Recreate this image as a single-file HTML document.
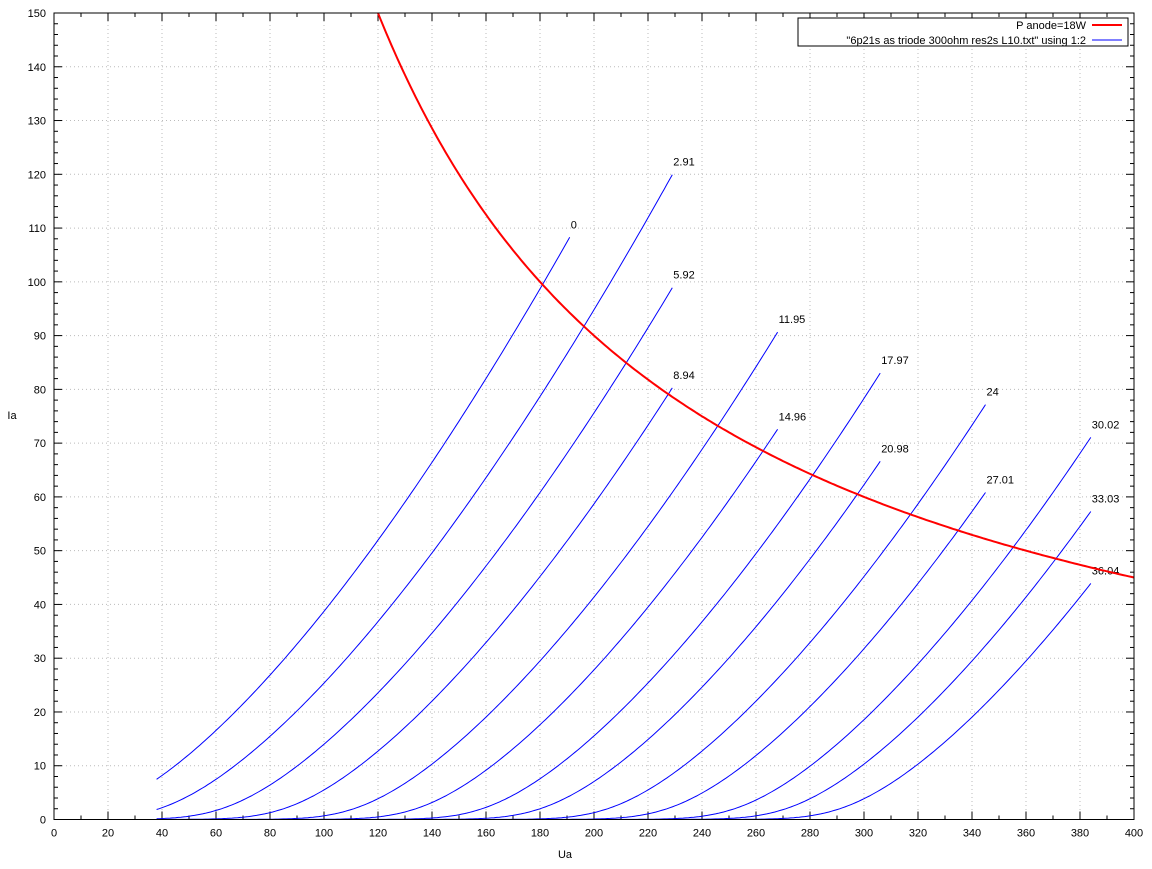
<!DOCTYPE html>
<html><head><meta charset="utf-8"><style>
body{margin:0;background:#fff}
svg text{font-family:"Liberation Sans",sans-serif;font-size:11px;fill:#000}
</style></head><body>
<svg id="s" width="1152" height="864" xmlns="http://www.w3.org/2000/svg"></svg>
<script>
const X0=54,X1=1134,Y0=819.5,Y1=13;
const sx=u=>X0+(u)*(X1-X0)/400, sy=i=>Y0-(i)*(Y0-Y1)/150;
let h='';
for(let u=20;u<400;u+=20)h+=`<line x1="${sx(u)}" y1="${Y1}" x2="${sx(u)}" y2="${Y0}" stroke="#bbb" stroke-dasharray="1,3"/>`;
for(let i=10;i<150;i+=10)h+=`<line x1="${X0}" y1="${sy(i)}" x2="${X1}" y2="${sy(i)}" stroke="#bbb" stroke-dasharray="1,3"/>`;
for(let u=0;u<=400;u+=10){let L=u%20?4:8;h+=`<line x1="${sx(u)}" y1="${Y0}" x2="${sx(u)}" y2="${Y0-L}" stroke="#000"/><line x1="${sx(u)}" y1="${Y1}" x2="${sx(u)}" y2="${Y1+L}" stroke="#000"/>`;
 if(u%20==0)h+=`<text x="${sx(u)}" y="${Y0+17}" text-anchor="middle">${u}</text>`;}
for(let i=0;i<=150;i+=2){let L=i%10?4:8;h+=`<line x1="${X0}" y1="${sy(i)}" x2="${X0+L}" y2="${sy(i)}" stroke="#000"/><line x1="${X1}" y1="${sy(i)}" x2="${X1-L}" y2="${sy(i)}" stroke="#000"/>`;
 if(i%10==0)h+=`<text x="${X0-8}" y="${sy(i)+4}" text-anchor="end">${i}</text>`;}
h+=`<text x="565" y="858" text-anchor="middle">Ua</text><text x="12" y="419" text-anchor="middle">Ia</text>`;
const C=[["0",7.6,0.0436,191],["2.91",29,0.0424,229],["5.92",52,0.042,229],["8.94",75,0.042,229],["11.95",101,0.042,268],["14.96",124,0.042,268],["17.97",148.5,0.042,306],["20.98",170,0.042,306],["24",195,0.042,345],["27.01",217,0.042,345],["30.02",242,0.042,384],["33.03",261,0.042,384],["36.04",281,0.042,384]];
const S=10, sp=d=>S*Math.log(1+Math.exp(d/S));
for(const [n,U0,k,E] of C){let p=[];for(let u=38;u<=E+0.01;u+=1){let I=k*Math.pow(sp(u-U0),1.5);p.push(sx(u).toFixed(1)+','+sy(I).toFixed(1));}
 h+=`<polyline points="${p.join(' ')}" fill="none" stroke="#0000ff" stroke-width="1"/>`;
 let Ie=k*Math.pow(sp(E-U0),1.5);h+=`<text x="${sx(E)+1}" y="${sy(Ie)-9}">${n}</text>`;}
let q=[];for(let u=120;u<=400;u+=1)q.push(sx(u).toFixed(1)+','+sy(18000/u).toFixed(1));
h+=`<polyline points="${q.join(' ')}" fill="none" stroke="#ff0000" stroke-width="2"/>`;
h+=`<rect x="${X0}" y="${Y1}" width="${X1-X0}" height="${Y0-Y1}" fill="none" stroke="#000"/>`;
h+=`<rect x="798" y="18" width="330" height="28" fill="#fff" stroke="#000"/>`;
h+=`<text x="1086" y="29" text-anchor="end">P anode=18W</text><line x1="1092" y1="25" x2="1122" y2="25" stroke="#f00" stroke-width="2"/>`;
h+=`<text x="1086" y="44" text-anchor="end">"6p21s as triode 300ohm res2s L10.txt" using 1:2</text><line x1="1092" y1="40" x2="1122" y2="40" stroke="#00f"/>`;
document.getElementById('s').innerHTML=h;
</script>
</body></html>
